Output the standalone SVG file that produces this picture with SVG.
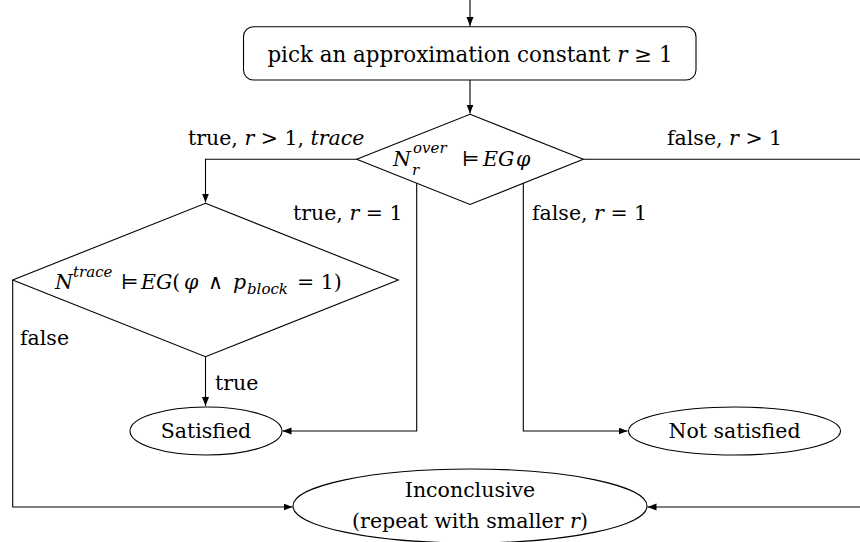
<svg xmlns="http://www.w3.org/2000/svg" width="860" height="542" viewBox="0 0 860 542" font-family="'DejaVu Serif', serif">
<defs>
<style>
text{font-family:'DejaVu Serif',serif;font-size:20.5px;fill:#000}
.mi{font-style:italic}
.sm{font-size:15px}
.c{text-anchor:middle}
.big{font-size:21.4px}
.shape{fill:#fff;stroke:#000;stroke-width:1.1}
.edge{fill:none;stroke:#000;stroke-width:1.1}
</style>
<marker id="ah" markerUnits="userSpaceOnUse" markerWidth="10" markerHeight="8" refX="9" refY="3.5" orient="auto">
<path d="M0,0 L9,3.5 L0,7 Z" fill="#000"/>
</marker>
</defs>
<rect width="860" height="542" fill="#fff"/>
<g id="connectors">
<path class="edge" d="M470,0 V26" marker-end="url(#ah)"/>
<path class="edge" d="M470,80 V113.5" marker-end="url(#ah)"/>
<path class="edge" d="M356.7,159.3 H205.5 V202.5" marker-end="url(#ah)"/>
<path class="edge" d="M416.7,183 V431 H282.5" marker-end="url(#ah)"/>
<path class="edge" d="M523.3,183 V431 H627.5" marker-end="url(#ah)"/>
<path class="edge" d="M583.3,159.3 H862 V507 H647.5" marker-end="url(#ah)"/>
<path class="edge" d="M205.5,357 V406" marker-end="url(#ah)"/>
<path class="edge" d="M12.7,280 V507 H292.5" marker-end="url(#ah)"/>
</g>
<g id="labels">
<text x="188" y="145">true, <tspan class="mi">r</tspan> &gt; 1, <tspan class="mi">trace</tspan></text>
<text x="667" y="145">false, <tspan class="mi">r</tspan> &gt; 1</text>
<text x="293" y="220">true, <tspan class="mi">r</tspan> = 1</text>
<text x="532" y="220">false, <tspan class="mi">r</tspan> = 1</text>
<text x="20" y="345">false</text>
<text x="215" y="390">true</text>
</g>
<g id="start">
<rect class="shape" x="243.5" y="26.7" width="452.5" height="53.3" rx="10"/>
<text x="470" y="62" class="c big">pick an approximation constant <tspan class="mi">r</tspan> ≥ 1</text>
</g>
<g id="check-over">
<polygon class="shape" points="470,114.3 583.3,159.3 470,204.5 356.7,159.3"/>
<text x="393" y="166" class="mi">N</text>
<text x="413" y="153" class="mi sm">over</text>
<text x="412" y="175" class="mi sm">r</text>
<text y="166"><tspan x="462">⊨</tspan><tspan x="483" class="mi">EG</tspan><tspan x="516" class="mi">φ</tspan></text>
</g>
<g id="check-trace">
<polygon class="shape" points="205.5,203.3 398.3,280 205.5,356.7 12.7,280"/>
<text x="55" y="289" class="mi">N</text>
<text x="73" y="277" class="mi sm">trace</text>
<text y="289"><tspan x="121">⊨</tspan><tspan x="141" class="mi">EG</tspan>(<tspan x="184" class="mi">φ</tspan><tspan x="208">∧</tspan><tspan x="233" class="mi">p</tspan><tspan x="247" dy="5" class="mi sm">block</tspan><tspan x="297" dy="-5">= 1)</tspan></text>
</g>
<g id="satisfied">
<ellipse class="shape" cx="206" cy="431" rx="76" ry="24"/>
<text x="206" y="438" class="c">Satisfied</text>
</g>
<g id="not-satisfied">
<ellipse class="shape" cx="734.5" cy="431" rx="106" ry="24"/>
<text x="734.5" y="438" class="c">Not satisfied</text>
</g>
<g id="inconclusive">
<ellipse class="shape" cx="470" cy="506" rx="177" ry="37"/>
<text x="470" y="497" class="c">Inconclusive</text>
<text x="470" y="528" class="c">(repeat with smaller <tspan class="mi">r</tspan>)</text>
</g>
</svg>
